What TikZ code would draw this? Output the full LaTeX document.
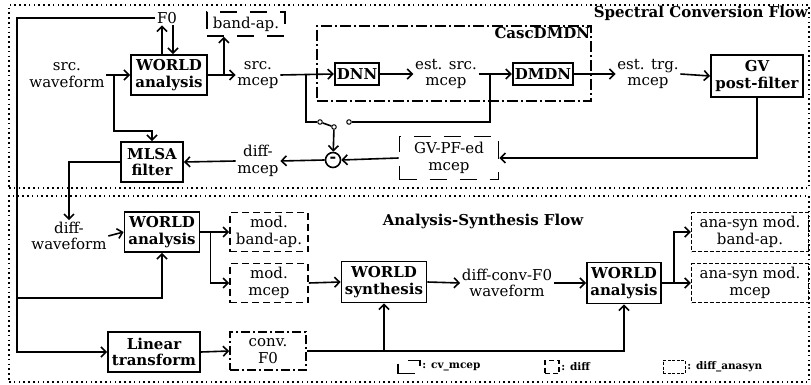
\documentclass[tikz,border=0pt]{standalone}
\usepackage{fontspec}
\setmainfont{DejaVu Serif}
\usepackage{tikz}
\usetikzlibrary{positioning, arrows.meta, fit, calc}

\begin{document}
\begin{tikzpicture}[
    x=1pt, y=-1pt,
    on grid,
    font=\fontsize{15}{16.5}\selectfont,
    line width=1.6pt,
    arrow/.style={-{Straight Barb[length=5pt, width=10pt]}, line width=1.6pt},
    procbox/.style={
        rectangle,
        draw,
        line width=1.8pt,
        align=center,
        font=\fontsize{15}{16.5}\selectfont\bfseries,
        inner xsep=2pt,
        inner ysep=2pt
    },
    textnode/.style={align=center, inner sep=1pt},
    cvmcep/.style={rectangle, draw, dash pattern=on 17pt off 13pt, align=center, inner sep=2pt},
    diffbox/.style={rectangle, draw, dash pattern=on 7pt off 4pt, align=center, inner sep=2pt},
    anasynbox/.style={rectangle, draw, line width=1.4pt, dash pattern=on 4pt off 2pt, align=center, inner sep=2pt},
    convbox/.style={rectangle, draw, dash pattern=on 9pt off 3pt on 2pt off 3pt, align=center, inner sep=2pt},
    cascbox/.style={rectangle, draw, dash pattern=on 11pt off 3pt on 2pt off 3pt},
    flowframe/.style={rectangle, draw, line width=1.4pt, dash pattern=on 1.6pt off 3.2pt},
    titletext/.style={font=\fontsize{15}{16}\selectfont\bfseries, inner sep=2pt},
    contact/.style={circle, draw, line width=1pt, fill=white, minimum size=4.5pt, inner sep=0pt},
    legendtext/.style={font=\fontsize{10.5}{12}\selectfont\bfseries, inner sep=1pt}
]
\useasboundingbox (0,0) rectangle (811,385);

%% FRAMES %%
\node (spec_frame) [flowframe, minimum width=800pt, minimum height=183pt] at (409,96.5) {};
\node (as_frame) [flowframe, minimum width=800pt, minimum height=186pt] at (409,289) {};
\node (spec_title) [titletext, anchor=north east, inner sep=1pt] at (spec_frame.north east) {Spectral Conversion Flow};
\node (as_title) [titletext, below=16pt of as_frame.north, xshift=74pt] {Analysis-Synthesis Flow};

%% SPECTRAL CONVERSION FLOW %%
\node (src) [textnode] at (67,75) {src.\\waveform};
\node (wa1) [procbox, minimum width=76pt, minimum height=40pt, right=102pt of src] {WORLD\\analysis};
\node (f0) [textnode, above=57pt of wa1, xshift=-2pt] {F0};
\node (smcep) [textnode, right=89pt of wa1] {src.\\mcep};
\node (bap) [cvmcep, minimum width=78pt, minimum height=24pt, above=51pt of smcep, xshift=-12pt] {band-ap.};
\node (dnn) [procbox, minimum height=22pt, right=99pt of smcep, yshift=1pt] {DNN};
\node (esmcep) [textnode, right=89pt of dnn] {est. src.\\mcep};
\node (dmdn) [procbox, minimum height=22pt, right=97pt of esmcep] {DMDN};
\node (etmcep) [textnode, right=105pt of dmdn] {est. trg.\\mcep};
\node (gv) [procbox, minimum width=92pt, minimum height=42pt, right=109pt of etmcep, yshift=-2pt] {GV\\post-filter};

\coordinate (casc_top) at ($(dmdn.north)+(0,21pt)$);
\node (casc_box) [cascbox, fit=(dnn)(dmdn)(casc_top), inner xsep=17pt, inner ysep=15pt] {};
\node (casc_title) [titletext, anchor=north east, inner sep=1pt] at (casc_box.north east) {CascDMDN};

\node (mlsa) [procbox, minimum width=62pt, minimum height=40pt, below=87pt of wa1, xshift=-17pt] {MLSA\\filter};
\node (dmcep) [textnode, right=106pt of mlsa, yshift=1pt] {diff-\\mcep};
\node (minus) [circle, draw, line width=1.6pt, minimum size=15pt, inner sep=0pt, right=75pt of dmcep, yshift=1pt, font=\fontsize{16}{16}\selectfont\bfseries] {-};
\node (gvpf) [cvmcep, minimum width=99pt, minimum height=43pt, right=116pt of minus, yshift=2pt] {GV-PF-ed\\mcep};

%% switch %%
\node (sw_p) [contact, above=33pt of minus, xshift=1pt] {};
\node (sw_l) [contact, left=14pt of sw_p, yshift=5pt] {};
\node (sw_r) [contact, right=15pt of sw_p, yshift=5pt] {};

%% ANALYSIS-SYNTHESIS FLOW %%
\node (wa2) [procbox, minimum width=75pt, minimum height=40pt, below=157pt of wa1, xshift=-7pt] {WORLD\\analysis};
\node (dwave) [textnode, left=93pt of wa2, yshift=-4pt] {diff-\\waveform};
\node (mbap) [diffbox, minimum width=78pt, minimum height=39pt, right=107pt of wa2] {mod.\\band-ap.};
\node (mmcep) [diffbox, minimum width=78pt, minimum height=39pt, below=51pt of mbap] {mod.\\mcep};
\node (synth) [procbox, minimum width=85pt, minimum height=41pt, right=115pt of mmcep, yshift=1pt] {WORLD\\synthesis};
\node (dcf0) [textnode, right=123pt of synth, yshift=-1pt] {diff-conv-F0\\waveform};
\node (wa3) [procbox, minimum width=74pt, minimum height=41pt, right=117pt of dcf0] {WORLD\\analysis};
\node (asmcep) [anasynbox, minimum width=117pt, minimum height=39pt, right=126pt of wa3] {ana-syn mod.\\mcep};
\node (asbap) [anasynbox, minimum width=117pt, minimum height=39pt, above=51pt of asmcep] {ana-syn mod.\\band-ap.};
\node (lt) [procbox, minimum width=92pt, minimum height=40pt, below=120pt of wa2, xshift=-8pt] {Linear\\transform};
\node (cf0) [convbox, minimum width=76pt, minimum height=38pt, right=114pt of lt, yshift=1pt] {conv.\\F0};

%% LEGEND %%
\node (lg_cv) [cvmcep, line width=1.2pt, minimum width=22pt, minimum height=13pt, inner sep=0pt] at (409,367) {};
\node (lg_cv_txt) [legendtext, anchor=west] at (lg_cv.east) {: cv\_mcep};
\node (lg_diff) [diffbox, line width=1.2pt, dash pattern=on 5pt off 3pt, minimum width=14pt, minimum height=13pt, inner sep=0pt] at (552,367) {};
\node (lg_diff_txt) [legendtext, anchor=west] at (lg_diff.east) {: diff};
\node (lg_as) [anasynbox, line width=1pt, dash pattern=on 3pt off 1.5pt, minimum width=22pt, minimum height=13pt, inner sep=0pt] at (674,367) {};
\node (lg_as_txt) [legendtext, anchor=west] at (lg_as.east) {: diff\_anasyn};

%% ARROWS %%
\coordinate (rail) at (17,0);
\draw [arrow] (src.east) -- (wa1.west);
\draw [arrow] ([xshift=-16pt]wa1.west) |- ($(mlsa.north)+(0,10pt)$) -- (mlsa.north);
\draw [arrow] ([xshift=-7pt]wa1.north) -- ([xshift=-7pt]wa1.north |- f0.south);
\draw [arrow] ([xshift=4pt]wa1.north |- f0.south) -- ([xshift=4pt]wa1.north);
\draw [arrow] (f0.west) -| (rail |- lt.west) -- (lt.west);
\draw [arrow] ($(rail |- wa2.south)+(0,-45pt)$) -| (wa2.south);
\draw [arrow] (wa1.east) -- (smcep.west);
\draw [arrow] ([xshift=16pt]wa1.east) -- ([xshift=16pt]wa1.east |- bap.south);
\draw [arrow] (smcep.east) -- (dnn.west);
\draw ([xshift=-28pt]dnn.west) |- (sw_l);
\draw (sw_l) -- (sw_p);
\draw [arrow] (sw_p) -- (minus);
\draw (sw_r) -| ([xshift=-22pt]dmdn.west);
\draw [arrow] (dnn.east) -- (esmcep.west);
\draw [arrow] (esmcep.east) -- (dmdn.west);
\draw [arrow] (dmdn.east) -- (etmcep.west);
\draw [arrow] (etmcep.east) -- (gv.west);
\draw [arrow] (gv.south) |- (gvpf.east);
\draw [arrow] (gvpf.west) -- (minus.east);
\draw [arrow] (minus.west) -- (dmcep.east);
\draw [arrow] (dmcep.west) -- (mlsa.east);
\draw [arrow] (mlsa.west) -| (dwave.north);

\draw [arrow] (dwave.east) -- (wa2.west);
\draw [arrow] (wa2.east) -- (mbap.west);
\draw [arrow] ([xshift=10pt]wa2.east) |- (mmcep.west);
\draw [arrow] (mmcep.east) -- (synth.west);
\draw [arrow] (synth.east) -- (dcf0.west);
\draw [arrow] (dcf0.east) -- (wa3.west);
\draw [arrow] (wa3.east) -- (asmcep.west);
\draw [arrow] ([xshift=12pt]wa3.east) |- (asbap.west);
\draw [arrow] (lt.east) -- (cf0.west);
\draw [arrow] (cf0.east) -| (wa3.south);
\draw [arrow] (cf0.east -| synth.south) -- (synth.south);

\end{tikzpicture}
\end{document}
